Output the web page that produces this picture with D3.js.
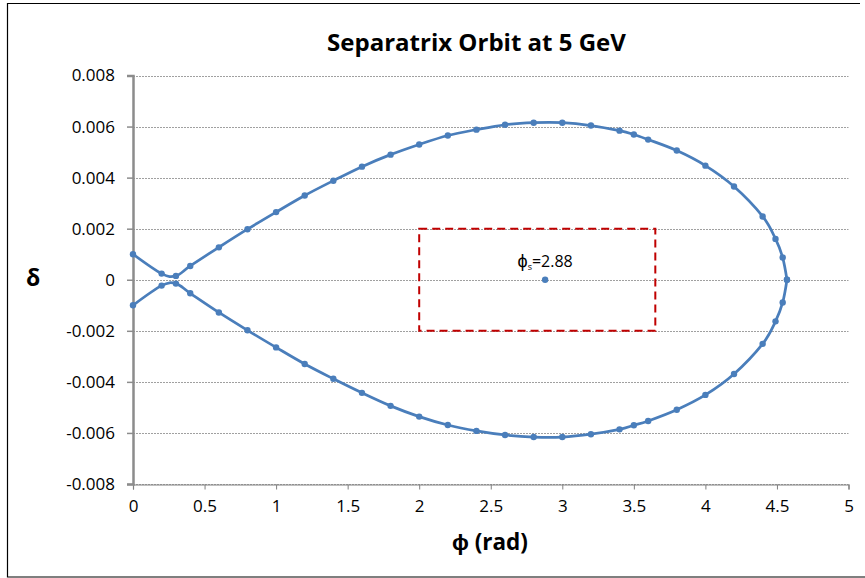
<!DOCTYPE html>
<html>
<head>
<meta charset="utf-8">
<script src="https://cdn.jsdelivr.net/npm/d3@7"></script>
<style>
  html, body { margin: 0; padding: 0; background: #fff; }
  svg { display: block; font-family: "Open Sans", "Liberation Sans", sans-serif; }
</style>
</head>
<body>
<svg id="chart" width="865" height="578"></svg>
<script>
// ---- data ----
const upperPhi   = [0, 0.2, 0.3, 0.4, 0.6, 0.8, 1.0, 1.2, 1.4, 1.6, 1.8, 2.0, 2.2, 2.4, 2.6, 2.8, 3.0, 3.2, 3.4, 3.5, 3.6, 3.8, 4.0, 4.2, 4.4, 4.49, 4.54, 4.57];
const upperDelta = [0.00100, 0.00024, 0.00015, 0.00054, 0.00127, 0.00198, 0.00265, 0.00330, 0.00388, 0.00443, 0.00490, 0.00530, 0.00565, 0.00588, 0.00607, 0.00615, 0.00615, 0.00604, 0.00584, 0.00569, 0.00549, 0.00506, 0.00447, 0.00365, 0.00248, 0.00160, 0.00087, 0];
const lowerPhi   = [0, 0.2, 0.3, 0.4, 0.6, 0.8, 1.0, 1.2, 1.4, 1.6, 1.8, 2.0, 2.2, 2.4, 2.6, 2.8, 3.0, 3.2, 3.4, 3.5, 3.6, 3.8, 4.0, 4.2, 4.4, 4.49, 4.54, 4.57];
const lowerDelta = [-0.00100, -0.00023, -0.00015, -0.00053, -0.00128, -0.00198, -0.00265, -0.00330, -0.00388, -0.00443, -0.00494, -0.00536, -0.00569, -0.00592, -0.00608, -0.00616, -0.00616, -0.00605, -0.00586, -0.00570, -0.00553, -0.00509, -0.00451, -0.00369, -0.00251, -0.00163, -0.00089, 0];
const phiS = [2.88];
const deltaS = [0];
const phiSLabel = "2.88";
const boxPhi = [2.0, 3.65];
const boxDelta = [-0.002, 0.002];
const xTicks = [0, 0.5, 1, 1.5, 2, 2.5, 3, 3.5, 4, 4.5, 5];
const yTicks = [-0.008, -0.006, -0.004, -0.002, 0, 0.002, 0.004, 0.006, 0.008];
const titleText = "Separatrix Orbit at 5 GeV";
const xTitle = "ϕ (rad)";
const yTitle = "δ";

// ---- layout ----
const svg = d3.select("#chart");
const pLeft = 133, pRight = 848.5, pTop = 75.5, pBottom = 484;
const x = d3.scaleLinear().domain([0, 5]).range([pLeft, pRight]);
const y = d3.scaleLinear().domain([-0.008, 0.008]).range([pBottom, pTop]);
const blue = "#4A7EBB";

// outer border
svg.append("path")
  .attr("d", "M860,3.5 H7.5 V577 H865")
  .attr("fill", "none").attr("stroke", "#000").attr("stroke-width", 1.2);

// gridlines
svg.append("g").selectAll("line").data(yTicks).join("line")
  .attr("x1", pLeft).attr("x2", pRight)
  .attr("y1", d => Math.round(y(d)) + 0.5).attr("y2", d => Math.round(y(d)) + 0.5)
  .attr("stroke", "#a0a0a0").attr("stroke-width", 1).attr("stroke-dasharray", "2,1");

// x axis
const xAxis = d3.axisBottom(x).tickValues(xTicks).tickSize(5).tickPadding(10)
  .tickFormat(d => String(d));
const gx = svg.append("g").attr("transform", `translate(0,${Math.round(pBottom) + 0.5})`).call(xAxis);
gx.select(".domain").attr("stroke", "#808080").attr("stroke-width", 1.2);
gx.selectAll(".tick line").attr("stroke", "#808080");
gx.selectAll(".tick text").attr("font-size", 17).attr("fill", "#000")
  .attr("font-family", "Open Sans, sans-serif");

// y axis
const yAxis = d3.axisLeft(y).tickValues(yTicks).tickSize(6).tickPadding(12)
  .tickFormat(d => d === 0 ? "0" : d3.format(".3f")(d).replace("−", "-"));
const gy = svg.append("g").attr("transform", `translate(${pLeft},0)`).call(yAxis);
gy.select(".domain").attr("stroke", "#8c8c8c").attr("stroke-width", 2.5);
gy.selectAll(".tick line").attr("stroke", "#8c8c8c").attr("stroke-width", 1.5);
gy.selectAll(".tick text").attr("font-size", 17).attr("fill", "#000")
  .attr("font-family", "Open Sans, sans-serif");

// annotation box
svg.append("rect")
  .attr("x", x(boxPhi[0])).attr("y", y(boxDelta[1]))
  .attr("width", x(boxPhi[1]) - x(boxPhi[0]))
  .attr("height", y(boxDelta[0]) - y(boxDelta[1]))
  .attr("fill", "none").attr("stroke", "#C00000").attr("stroke-width", 2)
  .attr("stroke-dasharray", "8,5");

// curves
const line = d3.line().x(d => x(d[0])).y(d => y(d[1])).curve(d3.curveCatmullRom.alpha(0));
const upper = upperPhi.map((p, i) => [p, upperDelta[i]]);
const lower = lowerPhi.map((p, i) => [p, lowerDelta[i]]);
[upper, lower].forEach(series => {
  svg.append("path").datum(series).attr("d", line)
    .attr("fill", "none").attr("stroke", blue).attr("stroke-width", 2.75)
    .attr("stroke-linejoin", "round");
  svg.append("g").selectAll("circle").data(series).join("circle")
    .attr("cx", d => x(d[0])).attr("cy", d => y(d[1])).attr("r", 3.2)
    .attr("fill", blue);
});

// synchronous phase point + label
svg.append("g").selectAll("circle").data(phiS.map((p, i) => [p, deltaS[i]])).join("circle")
  .attr("cx", d => x(d[0])).attr("cy", d => y(d[1])).attr("r", 3.2).attr("fill", blue);
const lbl = svg.append("text")
  .attr("x", x(phiS[0])).attr("y", y(deltaS[0]) - 13)
  .attr("text-anchor", "middle").attr("font-size", 16).attr("fill", "#000");
lbl.append("tspan").text("ϕ").attr("font-size", 18);
lbl.append("tspan").text("s").attr("font-size", 9).attr("dy", 3);
lbl.append("tspan").text("=" + phiSLabel).attr("dy", -3);

// title
const t = svg.append("text").attr("x", 476.5).attr("y", 51)
  .attr("text-anchor", "middle").attr("font-weight", "bold").attr("font-size", 23)
  .attr("fill", "#000").text(titleText);
const tw = t.node().getComputedTextLength();
t.attr("font-size", 23 * 299 / tw);

// axis titles
const xt = svg.append("text").attr("x", 490).attr("y", 550)
  .attr("text-anchor", "middle").attr("font-weight", "bold").attr("font-size", 21)
  .attr("fill", "#000").text(xTitle);
const xw = xt.node().getComputedTextLength();
xt.attr("font-size", 21 * 76 / xw);

svg.append("text").attr("x", 33).attr("y", 286)
  .attr("text-anchor", "middle").attr("font-weight", "bold").attr("font-size", 23)
  .attr("fill", "#000").text(yTitle);
</script>
</body>
</html>
